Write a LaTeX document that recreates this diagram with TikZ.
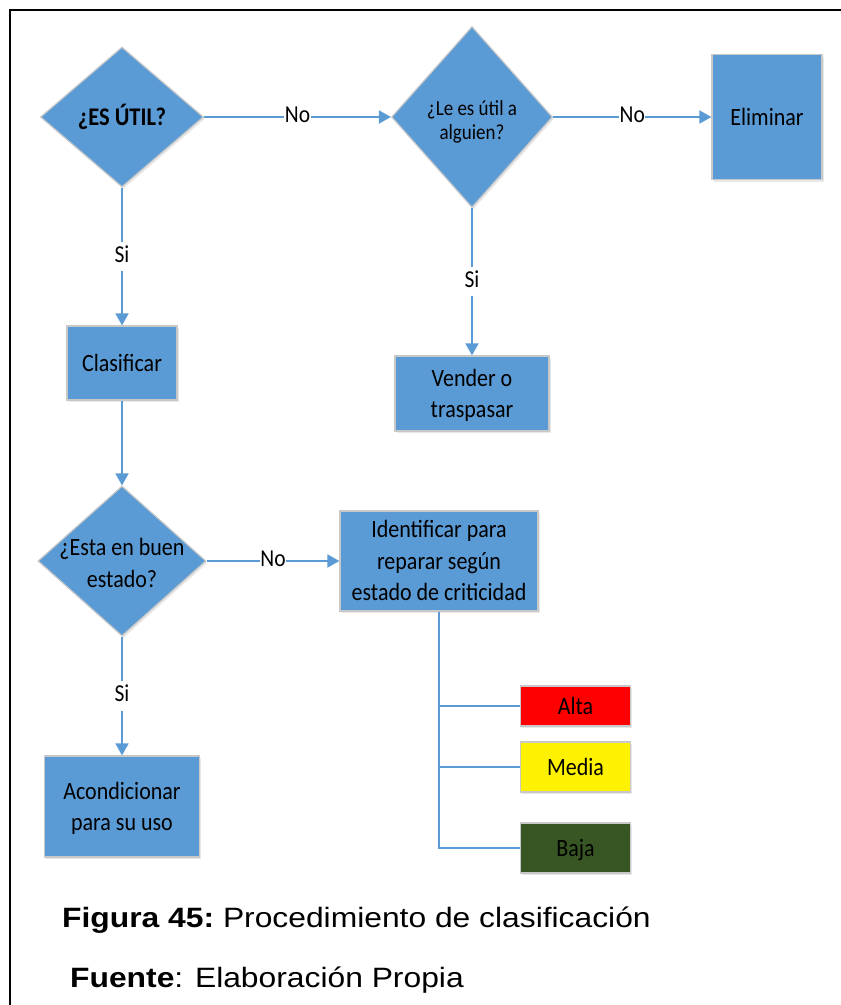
\documentclass[tikz,border=0pt]{standalone}
\usepackage{fontspec}
\setmainfont{Carlito}
\newfontfamily\capfont{Liberation Sans}
\usetikzlibrary{shapes.geometric,arrows.meta,shadows}
\definecolor{fblue}{HTML}{5B9BD5}
\definecolor{bordg}{HTML}{C8C8C8}
\definecolor{bgreen}{HTML}{375623}
\newcommand{\stx}[1]{\scalebox{1}[1.13]{\begin{tabular}{@{}c@{}}#1\end{tabular}}}
\begin{document}
\begin{tikzpicture}[x=1pt,y=-1pt,
  shapebase/.style={draw=bordg, line width=1.2pt, fill=fblue,
    drop shadow={shadow xshift=1.5pt, shadow yshift=-2pt, opacity=0.18}},
  dia/.style 2 args={shapebase, diamond, inner sep=0pt, minimum width=#1, minimum height=#2},
  boxnode/.style n args={3}{shapebase, rectangle, inner sep=0pt, minimum width=#1, minimum height=#2, fill=#3},
  txt/.style={align=center, font=\fontsize{22}{28}\selectfont, inner sep=0pt, yshift=-2pt},
  conn/.style={draw=fblue, line width=1.8pt, -{Triangle[length=12pt,width=13pt]}},
  plain/.style={draw=fblue, line width=1.8pt},
  lbl/.style={fill=white, inner sep=0.5pt, font=\fontsize{21.5}{25}\selectfont},
  captxt/.style={anchor=base west, inner sep=0pt, font=\capfont\fontsize{31.8}{36}\selectfont}
]
\useasboundingbox (0,0) rectangle (841,1005);
\fill[white] (0,0) rectangle (841,1005);
\draw[line width=1.8pt, black] (841,10) -- (10,10) -- (10,1005);

% shapes
\node[dia={163pt}{140pt}] (d1) at (122,117) {};
\node[txt, font=\bfseries\fontsize{22.5}{28}\selectfont] (t1) at (d1) {\stx{¿ES ÚTIL?}};
\node[dia={161pt}{181pt}] (d2) at (472,117) {};
\node[txt, font=\fontsize{19}{21}\selectfont, yshift=-4pt] (t2) at (d2) {\stx{¿Le es útil a\\alguien?}};
\node[boxnode={110pt}{125pt}{fblue}] (elim) at (767,117) {};
\node[txt] (telim) at (elim) {\stx{Eliminar}};
\node[boxnode={110pt}{74pt}{fblue}] (clas) at (122,363) {};
\node[txt] (tclas) at (clas) {\stx{Clasificar}};
\node[boxnode={154pt}{75pt}{fblue}] (vend) at (472,393.5) {};
\node[txt] (tvend) at (vend) {\stx{Vender o\\traspasar}};
\node[dia={168pt}{150pt}] (d3) at (122,561) {};
\node[txt] (t3) at ([yshift=-2pt]d3.center) {\stx{¿Esta en buen\\estado?}};
\node[boxnode={198pt}{100pt}{fblue}] (iden) at (439,561) {};
\node[txt] (tiden) at (iden) {\stx{Identificar para\\reparar según\\estado de criticidad}};
\node[boxnode={155pt}{101pt}{fblue}] (acon) at (122,806.5) {};
\node[txt] (tacon) at (acon) {\stx{Acondicionar\\para su uso}};
\node[boxnode={110pt}{40pt}{red}] (alta) at (575.5,706) {};
\node[txt] (talta) at (alta) {\stx{Alta}};
\node[boxnode={110pt}{50pt}{yellow}] (media) at (575.5,767) {};
\node[txt] (tmedia) at (media) {\stx{Media}};
\node[boxnode={110pt}{50pt}{bgreen}] (baja) at (575.5,848) {};
\node[txt] (tbaja) at (baja) {\stx{Baja}};

% connectors
\draw[conn] (d1.east) -- node[lbl] {\stx{No}} (d2.west);
\draw[conn] (d2.east) -- node[lbl] {\stx{No}} (elim.west);
\draw[conn] (d1.south) -- node[lbl] {\stx{Si}} (clas.north);
\draw[conn] (d2.south) -- node[lbl] {\stx{Si}} (vend.north);
\draw[conn] (clas.south) -- (d3.north);
\draw[conn] (d3.east) -- node[lbl] {\stx{No}} (iden.west);
\draw[conn] (d3.south) -- node[lbl] {\stx{Si}} (acon.north);
\draw[plain] (iden.south) -- (iden.south |- baja.west) -- (baja.west);
\draw[plain] (iden.south |- alta.west) -- (alta.west);
\draw[plain] (iden.south |- media.west) -- (media.west);

% caption
\node[captxt] (cap1) at (62,927) {\scalebox{1}[0.88]{\textbf{Figura 45:}~Procedimiento de clasificación}};
\node[captxt] (cap2) at (70,987) {\scalebox{1}[0.88]{\textbf{Fuente}: Elaboración Propia}};
\end{tikzpicture}
\end{document}
